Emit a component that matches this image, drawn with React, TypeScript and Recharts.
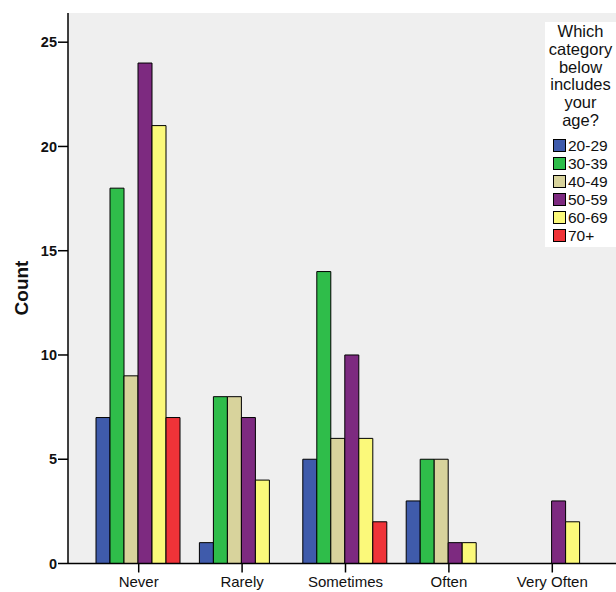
import { BarChart, Bar, XAxis, YAxis, CartesianGrid } from "recharts";

const frequencies = ["Never", "Rarely", "Sometimes", "Often", "Very Often"];
const age20to29 = [7, 1, 5, 3, 0];
const age30to39 = [18, 8, 14, 5, 0];
const age40to49 = [9, 8, 6, 5, 0];
const age50to59 = [24, 7, 10, 1, 3];
const age60to69 = [21, 4, 6, 1, 2];
const age70plus = [7, 0, 2, 0, 0];
const yTicks = [0, 5, 10, 15, 20, 25];

const series = [
  { key: "a20", name: "20-29", values: age20to29, color: "#3f5bab" },
  { key: "a30", name: "30-39", values: age30to39, color: "#2fbd4a" },
  { key: "a40", name: "40-49", values: age40to49, color: "#d8d39c" },
  { key: "a50", name: "50-59", values: age50to59, color: "#7d2a80" },
  { key: "a60", name: "60-69", values: age60to69, color: "#fbf97a" },
  { key: "a70", name: "70+", values: age70plus, color: "#ef3338" },
];

const data = frequencies.map((freq, i) => {
  const row: Record<string, string | number> = { freq };
  series.forEach((s) => {
    row[s.key] = s.values[i];
  });
  return row;
});

const FONT = '"Liberation Sans", Arial, sans-serif';

// legend sits on top of the plot, outside recharts so it doesn't steal plot height
function AgeLegend() {
  return (
    <div
      style={{
        position: "absolute",
        left: 545,
        top: 22,
        background: "#fff",
        width: 71,
        height: 225,
        boxSizing: "border-box",
        paddingTop: 1,
        fontFamily: FONT,
        color: "#111",
      }}
    >
      <div style={{ textAlign: "center", lineHeight: "17.8px", fontSize: 16.5 }}>
        Which
        <br />
        category
        <br />
        below
        <br />
        includes
        <br />
        your
        <br />
        age?
      </div>
      <div style={{ marginTop: 7, fontSize: 15.5 }}>
        {series.map((s) => (
          <div key={s.key} style={{ display: "flex", alignItems: "center", height: 18, paddingLeft: 8 }}>
            <span
              style={{
                display: "inline-block",
                width: 11,
                height: 11,
                background: s.color,
                border: "1px solid #000",
                marginRight: 2,
              }}
            />
            <span>{s.name}</span>
          </div>
        ))}
      </div>
    </div>
  );
}

export default function App() {
  return (
    <div style={{ position: "absolute", left: 0, top: 0, width: 616, height: 592, overflow: "hidden", background: "#fff" }}>
      <BarChart
        width={640}
        height={592}
        data={data}
        margin={{ top: 13, right: 0, left: 0, bottom: 0 }}
        barGap={0}
        barCategoryGap={9}
      >
        <CartesianGrid fill="#efefef" horizontal={false} vertical={false} stroke="none" />
        <XAxis
          dataKey="freq"
          height={28.5}
          padding={{ left: 19, right: 36 }}
          axisLine={{ stroke: "#000", strokeWidth: 1.5 }}
          tickLine={{ stroke: "#000", strokeWidth: 1.5 }}
          tickSize={9}
          tickMargin={4}
          tick={{ fontSize: 15, fill: "#111", fontFamily: FONT }}
          interval={0}
        />
        <XAxis
          xAxisId="top"
          orientation="top"
          dataKey="freq"
          height={0}
          tick={false}
          tickLine={false}
          axisLine={{ stroke: "#000", strokeWidth: 1.5 }}
        />
        <YAxis
          width={68}
          domain={[0, 26.4]}
          ticks={yTicks}
          allowDataOverflow
          axisLine={{ stroke: "#000", strokeWidth: 1.5 }}
          tickLine={{ stroke: "#000", strokeWidth: 1.5 }}
          tickSize={10}
          tickMargin={1}
          tick={{ fontSize: 14.5, fill: "#111", fontWeight: "bold", fontFamily: FONT }}
          label={{
            content: () => (
              <text
                x={21}
                y={288}
                transform="rotate(-90 21 288)"
                textAnchor="middle"
                dominantBaseline="central"
                fontSize={19}
                fontWeight="bold"
                fontFamily={FONT}
                fill="#111"
              >
                Count
              </text>
            ),
          }}
        />
        {series.map((s) => (
          <Bar
            key={s.key}
            dataKey={s.key}
            name={s.name}
            fill={s.color}
            stroke="#000"
            strokeWidth={1}
            isAnimationActive={false}
          />
        ))}
      </BarChart>
      <AgeLegend />
    </div>
  );
}
